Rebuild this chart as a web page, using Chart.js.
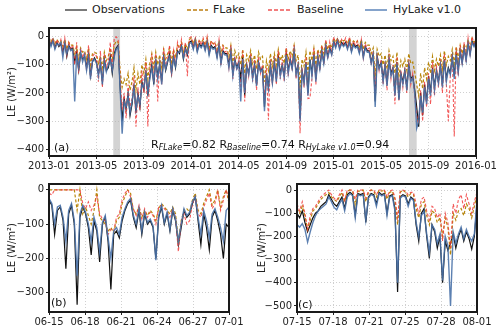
<!DOCTYPE html>
<html>
<head>
<meta charset="utf-8">
<script src="https://cdn.jsdelivr.net/npm/chart.js@4.4.1/dist/chart.umd.min.js"></script>
<style>
  body { margin: 0; background: #fff; font-family: "DejaVu Sans", sans-serif; }
  #wrap { position: relative; width: 500px; height: 330px; overflow: hidden; }
  canvas { position: absolute; }
  .lg { position: absolute; top: 3px; font-size: 11px; line-height: 14px; color: #222; white-space: nowrap; }
  .ln { position: absolute; top: 9px; height: 2px; }
  .tag { position: absolute; font-size: 11px; line-height: 14px; color: #111; white-space: nowrap; }
  .tag sub { font-size: 8px; font-style: italic; vertical-align: -2px; }
</style>
</head>
<body>
<div id="wrap">
  <!-- legend -->
  <div class="ln" style="left:65px;width:22px;background:#7a7a7a"></div>
  <div class="lg" style="left:92px">Observations</div>
  <div class="ln" style="left:187px;width:21px;background:repeating-linear-gradient(90deg,#cc9d4a 0 4px,transparent 4px 6px)"></div>
  <div class="lg" style="left:213px">FLake</div>
  <div class="ln" style="left:268px;width:24px;background:repeating-linear-gradient(90deg,#f27d7d 0 4px,transparent 4px 6px)"></div>
  <div class="lg" style="left:297px">Baseline</div>
  <div class="ln" style="left:365px;width:22px;background:#85a3cb"></div>
  <div class="lg" style="left:393px">HyLake v1.0</div>

  <canvas id="chartA" width="500" height="156" style="left:0;top:20px"></canvas>
  <canvas id="chartB" width="248" height="154" style="left:0;top:176px"></canvas>
  <canvas id="chartC" width="250" height="154" style="left:250px;top:176px"></canvas>

  <div class="tag" style="left:54px;top:141px">(a)</div>
  <div class="tag" style="left:151px;top:138px">R<sub>FLake</sub>=0.82 R<sub>Baseline</sub>=0.74 R<sub>HyLake v1.0</sub>=0.94</div>
  <div class="tag" style="left:51px;top:296px">(b)</div>
  <div class="tag" style="left:298px;top:298px">(c)</div>
</div>

<script>
// ---- panel (a): 2013-01 .. 2016-01, six samples per month ----
const aPerMonth = 6;
const aTickLabels = ['2013-01','2013-05','2013-09','2014-01','2014-05','2014-09','2015-01','2015-05','2015-09','2016-01'];
const aYTicks = [0, -100, -200, -300, -400];
const aBandStart = [5.42, 30.35];
const aBandEnd = [5.99, 31.0];

const aObs = [
  -15,-30,-10,-40,-20,-35, -25,-55,-20,-70,-30,-45, -40,-90,-55,-120,-60,-80,
  -70,-110,-60,-140,-90,-75, -90,-130,-100,-160,-80,-120, -110,-70,-130,-60,-40,-30,
  -180,-300,-220,-260,-200,-280, -240,-170,-270,-200,-250,-160, -190,-120,-210,-140,-100,-170,
  -80,-140,-100,-160,-70,-120, -90,-60,-130,-70,-110,-50, -60,-30,-80,-40,-65,-20,
  -15,-40,-10,-50,-25,-35, -20,-45,-15,-60,-30,-40, -35,-70,-25,-90,-50,-60,
  -60,-100,-50,-130,-80,-110, -90,-150,-70,-210,-100,-130, -80,-140,-100,-170,-90,-120,
  -110,-250,-130,-180,-100,-160, -90,-150,-70,-130,-100,-140, -60,-120,-80,-110,-50,-130,
  -100,-290,-120,-160,-90,-200, -80,-130,-60,-150,-70,-110, -50,-90,-30,-70,-40,-60,
  -15,-35,-10,-40,-20,-30, -20,-40,-15,-50,-25,-35, -30,-55,-20,-70,-35,-50,
  -50,-90,-60,-230,-70,-110, -90,-150,-100,-170,-80,-130, -110,-200,-90,-220,-130,-160,
  -120,-180,-100,-150,-140,-190, -250,-320,-200,-280,-170,-230, -140,-200,-110,-180,-120,-160,
  -100,-170,-80,-150,-110,-130, -70,-140,-60,-120,-50,-90, -40,-80,-20,-60,-15,-30,
  -10
];
const aHyLake = [
  -10,-35,-15,-45,-25,-30, -20,-75,-25,-60,-35,-50, -45,-230,-60,-110,-55,-90,
  -65,-120,-70,-150,-85,-80, -95,-140,-90,-170,-85,-125, -100,-80,-120,-70,-45,-35,
  -190,-345,-230,-250,-210,-270, -230,-180,-260,-210,-240,-170, -180,-130,-200,-150,-110,-160,
  -90,-150,-95,-170,-75,-115, -85,-70,-125,-75,-105,-55, -55,-35,-75,-45,-60,-25,
  -20,-45,-15,-55,-30,-40, -25,-50,-20,-65,-35,-45, -40,-75,-30,-95,-55,-65,
  -65,-110,-55,-140,-85,-115, -95,-230,-80,-200,-105,-135, -85,-150,-105,-175,-95,-125,
  -115,-265,-135,-185,-105,-165, -95,-160,-75,-140,-105,-145, -65,-130,-85,-115,-55,-135,
  -105,-300,-125,-165,-95,-210, -85,-140,-65,-160,-75,-115, -55,-95,-35,-75,-45,-65,
  -20,-40,-15,-45,-25,-35, -25,-45,-20,-55,-30,-40, -35,-60,-25,-75,-40,-55,
  -55,-95,-65,-250,-75,-115, -95,-160,-105,-175,-85,-140, -115,-210,-95,-225,-135,-170,
  -125,-190,-105,-160,-145,-200, -325,-300,-210,-270,-180,-240, -150,-210,-115,-190,-125,-165,
  -105,-180,-85,-160,-115,-135, -75,-150,-65,-125,-55,-95, -45,-85,-25,-65,-20,-35,
  -15
];
const aFLake = [
  -5,-20,-5,-25,-10,-20, -15,-35,-10,-45,-20,-30, -30,-60,-35,-80,-40,-55,
  -50,-80,-40,-100,-60,-55, -60,-95,-70,-110,-55,-85, -70,-40,-80,-30,-15,-20,
  -120,-180,-150,-170,-130,-190, -160,-110,-190,-130,-170,-100, -130,-80,-150,-95,-60,-110,
  -55,-100,-65,-110,-45,-80, -60,-40,-90,-45,-75,-30, -40,-20,-55,-25,-45,-10,
  -5,-25,-5,-30,-15,-20, -10,-30,-5,-40,-15,-25, -20,-45,-15,-60,-30,-40,
  -40,-70,-30,-90,-50,-75, -60,-100,-45,-130,-65,-85, -50,-95,-65,-115,-55,-80,
  -70,-160,-85,-120,-60,-105, -60,-100,-45,-85,-65,-95, -40,-80,-50,-70,-30,-85,
  -65,-180,-80,-105,-55,-130, -50,-85,-40,-100,-45,-70, -30,-60,-15,-45,-25,-40,
  -5,-20,-5,-25,-10,-15, -10,-25,-5,-30,-15,-20, -15,-35,-10,-45,-20,-30,
  -30,-60,-40,-140,-45,-70, -60,-100,-65,-115,-50,-85, -70,-130,-55,-145,-85,-105,
  -80,-120,-60,-95,-90,-125, -170,-210,-130,-185,-110,-150, -90,-130,-70,-120,-80,-105,
  -65,-115,-50,-100,-70,-85, -45,-95,-35,-80,-30,-60, -25,-50,-10,-40,-5,-20,
  -5
];
const aBaseline = [
  0,-25,-5,-35,-10,-30, -10,-50,-5,-65,-20,-40, -30,-100,-20,-130,-40,-75,
  -55,-120,-30,-150,-70,-60, -70,-160,-50,-180,-60,-110, -90,-20,-120,-5,0,-10,
  -150,-260,-200,-290,-170,-250, -220,-140,-320,-180,-260,-120, -200,-90,-319,-110,-70,-160,
  -60,-230,-80,-170,-40,-110, -80,-30,-140,-50,-100,-20, -50,-10,-70,-20,-140,-5,
  0,-35,-5,-45,-10,-30, -5,-40,0,-55,-15,-30, -20,-65,-10,-100,-35,-55,
  -50,-110,-30,-150,-70,-120, -80,-200,-50,-230,-90,-140, -60,-160,-80,-190,-70,-130,
  -100,-230,-110,-295,-80,-170, -70,-170,-50,-150,-80,-160, -40,-140,-60,-120,-30,-150,
  -90,-343,-110,-180,-70,-220, -218,-150,-40,-170,-50,-120, -30,-100,-10,-80,-20,-60,
  0,-35,-5,-40,-10,-25, -5,-40,0,-50,-15,-30, -15,-55,-10,-75,-25,-45,
  -40,-100,-50,-200,-60,-120, -80,-170,-90,-190,-60,-150, -100,-240,-70,-230,-120,-180,
  -110,-200,-80,-170,-130,-210, -280,-310,-190,-300,-160,-250, -130,-240,-90,-210,-100,-180,
  -80,-200,-60,-170,-300,-140, -60,-355,-40,-140,-30,-100, -20,-90,-5,-60,0,-25,
  -5
];

// ---- panel (b): 06-15 .. 07-01, four samples per day ----
const bPerDay = 4;
const bTickLabels = ['06-15','06-18','06-21','06-24','06-27','07-01'];
const bYTicks = [0, -100, -200, -300];
const bObs = [
  -30,-45,-130,-60, -50,-90,-230,-70, -45,-100,-335,-80, -50,-70,-110,-190,
  -90,-120,-210,-100, -80,-150,-290,-130, -120,-140,-90,-60, -40,-30,-80,-110,
  -60,-130,-70,-100, -90,-110,-200,-80, -50,-100,-70,-120, -60,-90,-160,-110,
  -60,-80,-70,-40, -20,-90,-160,-70, -110,-175,-80,-60, -90,-130,-200,-100,
  -110
];
const bHyLake = [
  -25,-40,-100,-50, -45,-80,-150,-60, -40,-90,-250,-70, -45,-65,-100,-150,
  -80,-110,-180,-95, -75,-140,-200,-120, -110,-130,-80,-55, -35,-25,-75,-100,
  -55,-120,-65,-95, -85,-105,-205,-75, -45,-95,-65,-115, -55,-85,-150,-100,
  -55,-75,-65,-35, -20,-80,-130,-60, -90,-140,-70,-55, -80,-110,-150,-60,
  -50
];
const bFLake = [
  0,0,0,0, 0,0,0,0, 0,0,-60,0, -70,-50,-75,-100,
  -60,0,-80,-90, -100,-120,-110,-125, -90,-80,-40,-20, 0,-10,-60,-70,
  -50,-80,-60,-75, -60,-70,-90,-55, -40,-50,-60,-70, -50,-70,-150,-90,
  -60,-55,-65,-30, -10,-60,-70,-40, -20,0,-45,-30, 0,-50,-20,0,
  -40
];
const bBaseline = [
  -10,-15,0,0, 0,0,0,0, 0,0,0,0, -40,-55,-35,-60,
  -45,-20,-70,-85, -90,-130,-115,-120, -80,-70,-30,-10, 0,-20,-55,-75,
  -45,-85,-55,-80, -65,-75,-100,-50, -45,-55,-65,-80, -55,-80,-180,-95,
  -70,-100,-90,-40, -20,-70,-80,-50, -30,-10,-55,-40, -5,-60,-30,0,
  -30
];

// ---- panel (c): 07-15 .. 08-01, four samples per day ----
const cPerDay = 4;
const cTickLabels = ['07-15','07-18','07-21','07-25','07-28','08-01'];
const cYTicks = [0, -100, -200, -300, -400, -500];
const cObs = [
  -100,-120,-90,-140, -180,-150,-120,-100, -90,-70,-60,-50, -20,-40,-60,-70,
  -50,-30,-80,-20, -10,-20,-110,-15, -20,-15,-140,-30, -15,-20,-60,-10,
  -20,-15,-100,-25, -20,-80,-440,-30, -20,-25,-60,-30, -40,-150,-220,-100,
  -80,-200,-295,-150, -180,-250,-200,-400, -220,-260,-230,-190, -250,-200,-170,-220,
  -180,-210,-255,-200, -60
];
const cHyLake = [
  -150,-160,-145,-170, -225,-180,-140,-110, -90,-80,-70,-60, -30,-50,-75,-85,
  -60,-40,-90,-30, -15,-25,-120,-20, -25,-20,-130,-35, -20,-25,-70,-15,
  -25,-20,-110,-30, -25,-90,-400,-35, -25,-30,-70,-35, -45,-140,-200,-110,
  -90,-190,-270,-150, -170,-230,-190,-390, -200,-240,-500,-180, -230,-190,-160,-210,
  -170,-200,-220,-190, -40
];
const cFLake = [
  -80,-100,-70,-110, -170,-130,-90,-80, -60,-40,-30,-20, -10,-30,-40,-50,
  -30,-10,-50,-5, 0,-5,-60,-5, -5,0,-50,-10, 0,-5,-30,0,
  -5,0,-40,-10, -5,-40,-150,-10, 0,-10,-30,-15, -20,-80,-120,-60,
  -50,-110,-150,-90, -100,-140,-120,-200, -120,-160,-280,-100, -130,-90,-80,-110,
  -60,-80,-120,-70, -20
];
const cBaseline = [
  -60,-90,-50,-100, -170,-110,-80,-70, -50,-30,-20,-10, 0,-20,-35,-45,
  -20,0,-45,0, 0,0,-40,0, 0,0,-35,-5, 0,0,-20,0,
  0,0,-30,-5, 0,-30,-120,-5, 0,-5,-20,-10, -10,-60,-100,-40,
  -30,-90,-130,-70, -80,-120,-100,-220, -100,-140,-250,-60, -100,-40,-20,-80,
  -20,-60,-100,-50, -10
];

Chart.defaults.font.family = 'DejaVu Sans';
Chart.defaults.font.size = 10;
Chart.defaults.color = '#222';

const fmt = v => (v < 0 ? '\u2212' + Math.abs(v) : String(v));
const toPts = (vals, step) => vals.map((v, i) => ({ x: i / step, y: v }));

// thick black frame around the plot area
const framePlugin = {
  id: 'frame',
  afterDraw(chart) {
    const { ctx, chartArea: a } = chart;
    ctx.save();
    ctx.strokeStyle = '#1a1a1a';
    ctx.lineWidth = 2;
    ctx.strokeRect(a.left, a.top, a.right - a.left, a.bottom - a.top);
    ctx.restore();
  }
};

// grey shaded periods (panel a)
const bandPlugin = {
  id: 'bands',
  beforeDatasetsDraw(chart, args, opts) {
    if (!opts.start) return;
    const { ctx, chartArea: a, scales: { x } } = chart;
    ctx.save();
    ctx.fillStyle = 'rgba(175,175,175,0.55)';
    opts.start.forEach((s, i) => {
      const x1 = x.getPixelForValue(s), x2 = x.getPixelForValue(opts.end[i]);
      ctx.fillRect(x1, a.top, x2 - x1, a.bottom - a.top);
    });
    ctx.restore();
  }
};

function makeChart(id, p) {
  const xMax = (p.obs.length - 1) / p.step;
  const grid = { color: '#c4c4c4', lineWidth: 0.8, tickLength: 3, tickColor: '#222', tickWidth: 1, tickBorderDash: [] };
  new Chart(document.getElementById(id), {
    type: 'line',
    data: {
      datasets: [
        { label: 'Observations', data: toPts(p.obs, p.step), borderColor: '#111', borderWidth: 1.2, order: 4 },
        { label: 'FLake', data: toPts(p.flake, p.step), borderColor: '#b8860b', borderWidth: 1.2, borderDash: [3, 2], order: 3 },
        { label: 'Baseline', data: toPts(p.base, p.step), borderColor: 'rgba(240,60,60,0.85)', borderWidth: 1.1, borderDash: [3, 2], order: 2 },
        { label: 'HyLake v1.0', data: toPts(p.hy, p.step), borderColor: 'rgba(74,114,168,0.9)', borderWidth: 1.4, order: 1 },
      ],
    },
    options: {
      responsive: false,
      animation: false,
      events: [],
      layout: { padding: { top: p.padTop, right: p.padRight, left: 0, bottom: 0 } },
      elements: { point: { radius: 0 }, line: { tension: 0 } },
      plugins: { legend: { display: false }, tooltip: { enabled: false }, bands: p.bands || {} },
      scales: {
        x: {
          type: 'linear', min: 0, max: xMax,
          afterBuildTicks: s => { s.ticks = p.xLabels.map((l, i) => ({ value: i * xMax / (p.xLabels.length - 1) })); },
          afterFit: s => { s.height = p.xAxisH; },
          ticks: { autoSkip: false, maxRotation: 0, minRotation: 0, padding: 1, callback: (v, i) => p.xLabels[i] },
          grid,
          border: { display: false, dash: [1, 2] },
        },
        y: {
          type: 'linear', min: p.yMin, max: p.yMax,
          afterBuildTicks: s => { s.ticks = p.yTicks.map(v => ({ value: v })); },
          afterFit: s => { s.width = p.yAxisW; },
          ticks: { padding: 2, callback: v => fmt(v) },
          title: { display: true, text: 'LE (W/m²)', padding: { top: 6, bottom: 0 } },
          grid,
          border: { display: false, dash: [1, 2] },
        },
      },
    },
    plugins: [bandPlugin, framePlugin],
  });
}

makeChart('chartA', {
  obs: aObs, hy: aHyLake, flake: aFLake, base: aBaseline, step: aPerMonth,
  xLabels: aTickLabels, yTicks: aYTicks, yMin: -424, yMax: 31,
  padTop: 7, padRight: 24, xAxisH: 20, yAxisW: 49,
  bands: { start: aBandStart, end: aBandEnd },
});
makeChart('chartB', {
  obs: bObs, hy: bHyLake, flake: bFLake, base: bBaseline, step: bPerDay,
  xLabels: bTickLabels, yTicks: bYTicks, yMin: -356, yMax: 17,
  padTop: 7, padRight: 19, xAxisH: 18, yAxisW: 49,
});
makeChart('chartC', {
  obs: cObs, hy: cHyLake, flake: cFLake, base: cBaseline, step: cPerDay,
  xLabels: cTickLabels, yTicks: cYTicks, yMin: -526, yMax: 26,
  padTop: 7, padRight: 23, xAxisH: 18, yAxisW: 47,
});
</script>
</body>
</html>
